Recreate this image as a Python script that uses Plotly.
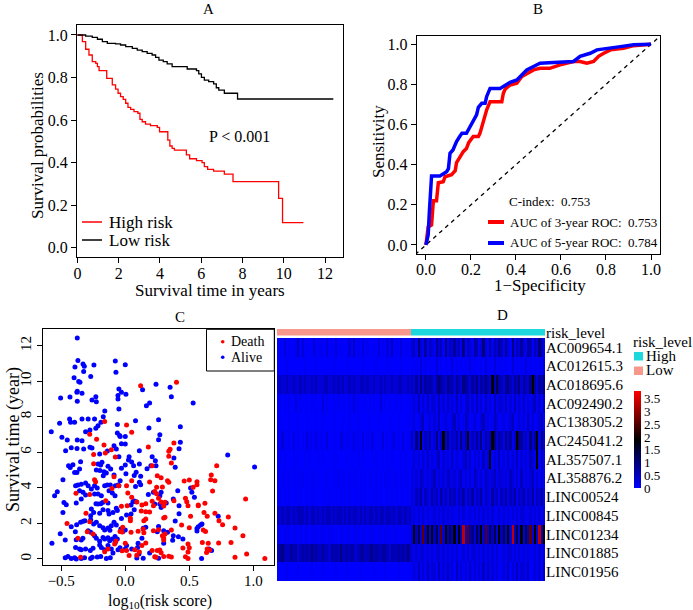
import plotly.graph_objects as go

W, H = 693, 610
FONT = "Liberation Serif"


def X(px):
    return px / W


def Y(py):
    return 1 - py / H


# ---------------- Panel A: Kaplan-Meier ----------------
high_t = [0, 0.24, 0.4, 0.56, 0.72, 0.89, 0.97, 1.05, 1.42, 1.69, 1.85, 1.97, 2.09, 2.22, 2.34, 2.45,
          2.58, 2.74, 2.93, 3.03, 3.14, 3.3, 3.54, 3.87, 3.98, 4.38, 4.48, 4.59, 4.7, 5.28, 5.44,
          5.77, 6.04, 6.15, 6.31, 6.6, 7.12, 7.54, 9.75, 9.94, 10.95]
high_s = [1.0, 0.969, 0.933, 0.906, 0.875, 0.867, 0.851, 0.832, 0.796, 0.765, 0.745, 0.726, 0.71,
          0.697, 0.679, 0.66, 0.65, 0.64, 0.632, 0.603, 0.592, 0.581, 0.574, 0.566, 0.545, 0.506,
          0.478, 0.467, 0.459, 0.436, 0.418, 0.409, 0.4, 0.381, 0.368, 0.36, 0.346, 0.31, 0.232,
          0.118, 0.118]
low_t = [0, 0.4, 0.72, 0.97, 1.21, 1.45, 1.85, 2.09, 2.34, 2.66, 2.9, 3.14, 3.38, 3.62, 3.79, 3.95,
         4.16, 4.35, 4.59, 5.32, 5.77, 5.88, 6.01, 6.15, 6.36, 6.6, 6.73, 6.85, 7.12, 7.76, 12.4]
low_s = [1.0, 0.995, 0.989, 0.98, 0.969, 0.961, 0.958, 0.953, 0.945, 0.937, 0.929, 0.922, 0.914,
         0.906, 0.895, 0.882, 0.875, 0.864, 0.851, 0.84, 0.832, 0.817, 0.801, 0.788, 0.781, 0.77,
         0.752, 0.741, 0.726, 0.699, 0.699]

# ---------------- Panel B: ROC ----------------
roc3_fpr = [0, 0.006, 0.01, 0.025, 0.028, 0.033, 0.047, 0.05, 0.055, 0.077, 0.085, 0.114, 0.13,
            0.136, 0.15, 0.166, 0.18, 0.19, 0.21, 0.233, 0.24, 0.248, 0.255, 0.263, 0.27, 0.285,
            0.337, 0.344, 0.352, 0.374, 0.404, 0.426, 0.448, 0.478, 0.507, 0.55, 0.596, 0.656,
            0.685, 0.715, 0.745, 0.767, 0.79, 0.82, 0.878, 0.923, 1.0]
roc3_tpr = [0, 0.04, 0.09, 0.10, 0.16, 0.22, 0.22, 0.27, 0.31, 0.315, 0.34, 0.35, 0.37, 0.41, 0.44,
            0.465, 0.48, 0.51, 0.54, 0.54, 0.556, 0.59, 0.623, 0.648, 0.673, 0.714, 0.714, 0.756,
            0.776, 0.797, 0.806, 0.839, 0.855, 0.872, 0.88, 0.88, 0.897, 0.914, 0.914, 0.905,
            0.914, 0.94, 0.955, 0.972, 0.98, 0.993, 1.0]
roc5_fpr = [0, 0.01, 0.015, 0.018, 0.025, 0.062, 0.077, 0.092, 0.1, 0.107, 0.12, 0.136, 0.15, 0.16,
            0.18, 0.196, 0.21, 0.225, 0.233, 0.248, 0.263, 0.27, 0.285, 0.33, 0.344, 0.374, 0.404,
            0.426, 0.448, 0.478, 0.507, 0.567, 0.656, 0.685, 0.73, 0.76, 0.804, 0.864, 0.923, 1.0]
roc5_tpr = [0, 0.05, 0.16, 0.22, 0.344, 0.344, 0.354, 0.365, 0.38, 0.457, 0.473, 0.515, 0.54, 0.556,
            0.556, 0.59, 0.623, 0.648, 0.686, 0.706, 0.706, 0.74, 0.78, 0.78, 0.79, 0.81, 0.822,
            0.847, 0.872, 0.889, 0.905, 0.909, 0.914, 0.94, 0.955, 0.972, 0.98, 0.988, 0.997, 1.0]
diag = [-0.1, 1.1]

# ---------------- Panel C: risk score vs survival time ----------------
alive_pts = [
    (-0.375, 12.43), (-0.37, 11.16), (-0.33, 10.97), (-0.32, 10.84), (-0.325, 10.54), (-0.245, 10.91),
    (-0.393, 10.8), (-0.078, 11.14), (-0.073, 10.5), (-0.27, 10.26), (-0.40, 10.2), (-0.364, 9.99),
    (-0.354, 9.94), (-0.05, 9.56), (-0.375, 9.43), (-0.378, 9.38), (-0.338, 9.32), (-0.057, 9.19),
    (-0.057, 9.0), (-0.505, 9.06), (-0.432, 9.11), (-0.375, 8.87), (-0.26, 8.94), (-0.226, 8.85),
    (-0.23, 9.13), (-0.05, 8.44), (-0.16, 8.33), (-0.578, 7.16), (-0.513, 7.63), (-0.435, 7.87),
    (-0.427, 7.69), (-0.396, 7.69), (-0.338, 7.87), (-0.29, 7.87), (-0.24, 7.87), (-0.172, 8.0),
    (-0.19, 7.69), (-0.213, 7.5), (-0.23, 7.35), (-0.31, 7.16), (-0.276, 7.26), (-0.062, 7.57),
    (-0.062, 7.09), (-0.044, 6.94), (-0.495, 6.84), (-0.453, 6.69), (-0.375, 6.69), (-0.338, 6.65),
    (-0.422, 6.26), (-0.377, 6.22), (-0.325, 6.19), (-0.26, 6.24), (-0.276, 6.28), (-0.466, 6.09),
    (-0.2, 5.9), (-0.14, 6.07), (-0.088, 6.37), (-0.07, 6.19), (-0.443, 5.25), (-0.409, 5.3),
    (-0.43, 5.15), (-0.349, 5.47), (-0.357, 5.06), (-0.396, 4.87), (-0.378, 4.87), (-0.213, 5.34),
    (-0.193, 5.28), (-0.182, 5.44), (-0.226, 5.0), (-0.198, 4.97), (-0.166, 4.91), (-0.135, 5.21),
    (-0.114, 5.06), (-0.172, 4.68), (-0.148, 4.84), (-0.088, 4.72), (-0.487, 4.46), (-0.531, 3.78),
    (-0.552, 3.56), (-0.388, 4.12), (-0.37, 4.16), (-0.344, 4.2), (-0.31, 4.27), (-0.29, 4.12),
    (-0.265, 3.93), (-0.24, 4.12), (-0.219, 3.99), (-0.161, 4.12), (-0.14, 4.16), (-0.117, 4.16),
    (-0.078, 4.12), (-0.057, 4.16), (-0.357, 3.84), (-0.33, 3.75), (-0.31, 3.6), (-0.344, 3.37),
    (-0.383, 3.15), (-0.24, 3.65), (-0.213, 3.65), (-0.187, 3.56), (-0.127, 3.84), (-0.101, 3.71),
    (-0.08, 3.56), (-0.213, 3.09), (-0.229, 3.11), (-0.192, 3.11), (-0.177, 3.18), (-0.135, 3.15),
    (-0.479, 3.18), (-0.461, 3.05), (-0.487, 2.62), (-0.265, 2.81), (-0.247, 2.62), (-0.27, 2.43),
    (-0.174, 2.77), (-0.2, 2.57), (-0.135, 2.72), (-0.127, 2.53), (-0.096, 2.62), (-0.062, 2.72),
    (-0.07, 2.85), (-0.328, 2.12), (-0.315, 2.15), (-0.349, 2.06), (-0.38, 1.93), (-0.422, 1.81),
    (-0.27, 2.21), (-0.247, 1.96), (-0.226, 2.06), (-0.2, 1.87), (-0.174, 1.76), (-0.161, 1.63),
    (-0.135, 1.74), (-0.12, 1.61), (-0.109, 1.87), (-0.088, 2.06), (-0.07, 1.91), (-0.508, 1.42),
    (-0.469, 1.07), (-0.39, 1.53), (-0.383, 1.08), (-0.344, 1.07), (-0.331, 1.16), (-0.29, 1.59),
    (-0.27, 1.5), (-0.24, 1.31), (-0.226, 1.16), (-0.2, 0.99), (-0.174, 1.21), (-0.161, 1.12),
    (-0.135, 1.2), (-0.122, 1.03), (-0.101, 1.12), (-0.08, 1.27), (-0.062, 1.12), (-0.078, 0.93),
    (-0.573, 0.88), (-0.388, 0.65), (-0.357, 0.56), (-0.344, 0.52), (-0.31, 0.56), (-0.273, 0.48),
    (-0.252, 0.6), (-0.2, 0.78), (-0.187, 0.65), (-0.161, 0.52), (-0.135, 0.75), (-0.109, 0.56),
    (-0.469, 0.07), (-0.448, 0.14), (-0.422, 0.03), (-0.396, 0.07), (-0.383, 0.0), (-0.344, 0.03),
    (-0.318, 0.07), (-0.271, 0.03), (-0.258, 0.09), (-0.219, 0.11), (-0.192, 0.14), (-0.148, 0.03),
    (-0.117, 0.07), (-0.096, 0.33), (-0.057, 0.52), (-0.041, 0.63),
    (0.0, 10.93), (-0.03, 9.38), (0.005, 9.26), (0.135, 9.52), (0.24, 9.83), (0.35, 9.66), (0.36, 9.13),
    (0.165, 8.62), (0.19, 8.77), (0.53, 8.77), (0.08, 7.78), (0.26, 7.83), (0.43, 7.44), (0.185, 7.37),
    (0.27, 6.99), (0.26, 6.71), (0.43, 6.56), (0.42, 6.2), (0.38, 5.68), (0.39, 5.16), (-0.04, 6.89),
    (0.0, 6.89), (-0.03, 6.48), (0.0, 6.47), (-0.05, 5.75), (0.03, 5.75), (0.025, 5.57), (0.05, 5.45),
    (0.065, 5.25), (0.11, 6.09), (0.11, 5.34), (0.21, 5.75), (0.235, 5.53), (0.24, 5.25), (0.2, 5.25),
    (0.17, 5.08), (0.0, 5.29), (-0.03, 5.1), (0.005, 4.8), (0.085, 4.88), (0.07, 4.69), (0.12, 4.65),
    (0.11, 4.31), (0.08, 4.07), (0.12, 4.18), (-0.04, 4.4), (-0.05, 4.12), (0.22, 3.75), (0.18, 3.62),
    (0.27, 3.56), (0.28, 3.75), (0.41, 3.84), (0.51, 3.99), (0.52, 3.75), (0.54, 3.47), (0.42, 3.0),
    (0.375, 3.37), (0.32, 3.15), (0.27, 3.09), (0.28, 2.9), (0.23, 3.09), (0.07, 3.26), (0.06, 3.22),
    (0.085, 3.22), (0.045, 3.04), (0.07, 2.77), (0.045, 2.53), (0.01, 2.47), (-0.03, 2.28),
    (-0.035, 1.69), (0.0, 1.63), (-0.02, 1.53), (0.14, 1.73), (0.16, 1.78), (0.26, 1.82), (0.25, 1.53),
    (0.30, 1.59), (0.33, 1.5), (0.39, 2.14), (0.42, 2.55), (0.375, 1.31), (0.415, 1.25), (0.45, 1.12),
    (0.56, 1.57), (0.57, 1.81), (0.10, 0.88), (0.13, 1.16), (0.096, 0.65), (0.05, 0.56), (0.01, 0.75),
    (0.0, 0.56), (0.107, 0.28), (0.09, 0.06), (0.14, 0.04), (0.26, 0.04), (0.19, 0.33), (0.30, 0.88),
    (0.37, 1.05),
    (0.80, 5.85), (1.01, 5.17), (0.726, 2.4), (0.588, 1.91), (0.599, 1.96), (0.56, 1.72), (0.661, 0.52),
    (0.674, 0.48), (0.654, 0.56), (0.596, 0.03),
]
death_pts = [
    (-0.161, 7.74), (-0.278, 7.01), (-0.224, 6.73), (-0.166, 6.41), (-0.247, 5.87), (-0.109, 6.15),
    (-0.156, 5.96), (-0.078, 5.74), (-0.247, 5.36), (-0.088, 4.63), (-0.24, 4.46), (-0.232, 4.35),
    (-0.385, 3.69), (-0.278, 3.62), (-0.052, 4.12), (-0.104, 3.97), (-0.153, 3.28), (-0.307, 2.57),
    (-0.455, 2.0), (-0.278, 2.1), (-0.297, 1.53), (-0.37, 1.16), (-0.252, 1.4), (-0.041, 1.55),
    (-0.083, 0.84), (-0.135, 0.56), (-0.161, 0.41), (-0.349, 0.09), (-0.073, 1.01),
    (0.12, 9.75), (0.40, 9.94), (0.01, 7.54), (0.05, 7.13), (0.18, 6.3), (0.35, 6.17), (0.34, 6.06),
    (0.34, 5.78), (0.38, 6.52), (0.36, 5.4), (0.21, 5.25), (0.05, 4.4), (0.01, 4.12), (0.19, 4.33),
    (0.25, 4.68), (0.28, 4.57), (0.245, 4.03), (0.29, 4.05), (0.34, 4.31), (0.33, 4.4), (0.46, 4.39),
    (0.50, 4.44), (0.56, 4.18), (0.53, 4.03), (0.02, 3.71), (0.05, 3.47), (0.09, 3.2), (0.015, 3.0),
    (-0.03, 2.96), (0.13, 3.04), (0.16, 3.1), (0.21, 3.25), (0.22, 3.0), (0.23, 3.79), (0.245, 3.67),
    (0.26, 3.41), (0.28, 3.2), (0.30, 2.98), (0.31, 3.19), (0.30, 2.3), (0.31, 2.34), (0.38, 3.28),
    (0.47, 3.41), (0.48, 3.22), (0.49, 3.0), (0.51, 2.4), (0.57, 3.0), (0.16, 2.66), (0.19, 2.64),
    (0.125, 2.7), (0.16, 2.25), (0.145, 2.15), (0.10, 1.56), (0.045, 1.5), (-0.025, 1.51), (0.04, 2.29),
    (0.04, 2.15), (-0.02, 1.78), (0.14, 1.69), (0.145, 1.48), (0.22, 1.59), (0.26, 1.65), (0.31, 1.41),
    (0.29, 1.31), (0.30, 1.18), (0.30, 1.06), (0.36, 1.63), (0.44, 1.91), (0.50, 1.76), (0.49, 0.84),
    (0.50, 0.63), (0.49, 0.39), (0.49, 0.02), (0.47, 0.13), (0.45, 0.61), (0.0, 0.88), (-0.025, 0.46),
    (0.01, 0.47), (0.03, 0.19), (0.075, 0.52), (0.09, 0.21), (0.11, 0.39), (0.13, 0.75), (0.16, 0.9),
    (0.21, 0.47), (0.23, 0.13), (0.25, 0.47), (0.27, 0.5), (0.28, 0.35), (0.24, 0.09), (0.30, 0.14),
    (0.34, 0.15), (0.36, 0.11),
    (0.714, 5.25), (0.672, 4.72), (0.667, 4.46), (0.70, 4.4), (0.682, 3.82), (0.56, 4.35), (0.94, 3.37),
    (0.57, 3.03), (0.622, 3.13), (0.615, 2.62), (0.64, 2.4), (0.70, 2.57), (0.732, 2.15), (0.76, 1.93),
    (0.805, 2.36), (0.857, 1.74), (0.609, 1.63), (0.627, 1.55), (0.919, 1.31), (0.602, 0.93),
    (0.648, 0.88), (0.729, 0.9), (0.826, 0.93), (0.64, 0.56), (0.66, 0.5), (0.635, 0.37), (0.857, 0.09),
    (0.948, 0.28), (1.09, 0.03),
]
alive_x = [p[0] for p in alive_pts]
alive_y = [p[1] for p in alive_pts]
death_x = [p[0] for p in death_pts]
death_y = [p[1] for p in death_pts]

# ---------------- Panel D: heatmap ----------------
genes = ["AC009654.1", "AC012615.3", "AC018695.6", "AC092490.2", "AC138305.2", "AC245041.2",
         "AL357507.1", "AL358876.2", "LINC00524", "LINC00845", "LINC01234", "LINC01885", "LINC01956"]
# expression level code per sample (one digit per sample); first 60 samples Low, last 60 High
level_values = [0.0, 0.1, 0.3, 0.5, 0.7, 0.95, 1.3, 1.9, 2.6, 3.3]
expr_low = [
    "0102010013 0201002101 1020102010 0120301020 1001020102 0301020110",
    "0000100000 0010000100 0000010000 0100000010 0000100001 0000010000",
    "2322322322 3232232322 2332232323 2232322332 3223223232 2322332232",
    "0101010020 1001010100 2010010101 0010201001 0101002010 1001010010",
    "0100010001 0001000100 1000010001 0010001000 0100010000 1000100010",
    "1021010201 0102110201 1020101021 0110201020 1021010201 0120102011",
    "0101000101 0010100010 1000101000 0101001010 0010100101 0100010100",
    "1011010110 1101011010 0110101101 1010110101 0110101011 1011010110",
    "0101010010 1001010100 0101001010 1010010101 0010101001 0101001010",
    "3232332323 3323233232 3233232332 3232332323 2332323323 3232332323",
    "1101110110 1011011101 1101101011 0110111011 0111011011 1011010111",
    "3453334342 3434353433 4332434353 3434323443 3453433443 2433434353",
    "0000100001 0000010000 1000001000 0100000100 0001000010 0000100000",
]
expr_high = [
    "2315214032 1423051324 2315032143 1252041324 3142051324 2143032531",
    "1010201010 0201010020 1010102010 0102010201 1010020101 0201010102",
    "3242524343 2454325342 4325432435 2435327364 3245324352 4325742435",
    "1213021302 2031203121 3020231203 1203120312 2130203121 3021231203",
    "1201230120 2130121023 1201320121 0231201320 1201230121 2031201230",
    "3152713240 2513725132 4152371324 2514237524 3152413754 2315247152",
    "1212021302 1230212031 2102313021 2031270213 1203121302 1203217031",
    "2121321212 3121213212 1231212132 1213212312 2121321213 1212312121",
    "2132413214 2314231423 1324132413 2413214231 3241324132 4132413241",
    "1212121211 2121212121 1212112121 2121212112 1212121212 2112121212",
    "2736283727 3628273637 2739283526 3728263627 3627293627 2638272937",
    "2121221212 1221212121 2112121221 2121212121 1212212121 2121121212",
    "1213121312 2031213120 3121203121 2130312120 1213021312 2130121203",
]
level_names = ["Low", "High"]
colorbar_ticks = [0, 0.5, 1, 1.5, 2, 2.5, 3, 3.5]
colorbar_text = ["0", "0.5", "1", "1.5", "2", "2.5", "3", "3.5"]

z = []
for lo, hi in zip(expr_low, expr_high):
    s = (lo + hi).replace(" ", "")
    z.append([level_values[int(c)] for c in s])
n_low = len(expr_low[0].replace(" ", ""))
n_high = len(expr_high[0].replace(" ", ""))
samples = list(range(n_low + n_high))
group_row = [[0] * n_low + [1] * n_high]

RED = "#FF0000"
BLUE = "#0000FF"
LOWC = "#F8978C"
HIGHC = "#1CD8DC"

fig = go.Figure()

# A
fig.add_trace(go.Scatter(x=high_t, y=high_s, mode="lines", line=dict(color=RED, width=1.3, shape="hv"),
                         xaxis="x", yaxis="y", showlegend=False, name="High risk"))
fig.add_trace(go.Scatter(x=low_t, y=low_s, mode="lines", line=dict(color="black", width=1.3, shape="hv"),
                         xaxis="x", yaxis="y", showlegend=False, name="Low risk"))
# B
fig.add_trace(go.Scatter(x=diag, y=diag, mode="lines", line=dict(color="black", width=1.3, dash="4px,4px"),
                         xaxis="x2", yaxis="y2", showlegend=False))
fig.add_trace(go.Scatter(x=roc3_fpr, y=roc3_tpr, mode="lines", line=dict(color=RED, width=3.5),
                         xaxis="x2", yaxis="y2", showlegend=False, name="3-year"))
fig.add_trace(go.Scatter(x=roc5_fpr, y=roc5_tpr, mode="lines", line=dict(color=BLUE, width=3.5),
                         xaxis="x2", yaxis="y2", showlegend=False, name="5-year"))
# C
fig.add_trace(go.Scatter(x=alive_x, y=alive_y, mode="markers", marker=dict(color=BLUE, size=5),
                         xaxis="x3", yaxis="y3", showlegend=False, name="Alive"))
fig.add_trace(go.Scatter(x=death_x, y=death_y, mode="markers", marker=dict(color=RED, size=5),
                         xaxis="x3", yaxis="y3", showlegend=False, name="Death"))
# D
fig.add_trace(go.Heatmap(
    z=z, x=samples, y=genes, xaxis="x4", yaxis="y4", zmin=0, zmax=3.8,
    colorscale=[[0, "#0000FF"], [0.5, "#000000"], [1, "#FF0000"]],
    colorbar=dict(x=X(634), xanchor="left", y=Y(439.6), yanchor="middle", len=97, lenmode="pixels",
                  thickness=7, xpad=0, ypad=0, outlinewidth=0, ticks="",
                  tickvals=colorbar_ticks, ticktext=colorbar_text,
                  tickfont=dict(family=FONT, size=13, color="black")),
))
fig.add_trace(go.Heatmap(
    z=group_row, x=samples, y=["risk_level"], xaxis="x5", yaxis="y5", zmin=0, zmax=1,
    colorscale=[[0, LOWC], [0.5, LOWC], [0.5, HIGHC], [1, HIGHC]], showscale=False,
))

box = dict(showline=True, linecolor="black", linewidth=1, mirror=True, ticks="outside", ticklen=5,
           tickcolor="black", showgrid=False, zeroline=False,
           tickfont=dict(family=FONT, size=16, color="black"))

layout = dict(
    width=W, height=H, autosize=False, margin=dict(l=0, r=0, t=0, b=0, autoexpand=False),
    paper_bgcolor="white", plot_bgcolor="white", showlegend=False,
    font=dict(family=FONT, color="black"),
    xaxis=dict(box, domain=[X(77), X(343)], range=[-0.02, 12.87], tickvals=[0, 2, 4, 6, 8, 10, 12],
               ticklabelstandoff=-3),
    yaxis=dict(box, domain=[Y(257), Y(25)], range=[-0.044, 1.047], tickvals=[0, 0.2, 0.4, 0.6, 0.8, 1.0],
               tickformat=".1f"),
    xaxis2=dict(box, domain=[X(416.7), X(660)], range=[-0.041, 1.04], tickvals=[0, 0.2, 0.4, 0.6, 0.8, 1.0],
                tickformat=".1f", anchor="y2", ticklabelstandoff=-4),
    yaxis2=dict(box, domain=[Y(254), Y(36)], range=[-0.045, 1.041], tickvals=[0, 0.2, 0.4, 0.6, 0.8, 1.0],
                tickformat=".1f", anchor="x2"),
    xaxis3=dict(box, domain=[X(42.7), X(274.3)], range=[-0.645, 1.164], tickvals=[-0.5, 0, 0.5, 1.0],
                tickformat=".1f", anchor="y3", ticklabelstandoff=-3,
                tickfont=dict(family=FONT, size=15, color="black")),
    yaxis3=dict(box, domain=[Y(565), Y(329.3)], range=[-0.34, 12.92], tickvals=[0, 2, 4, 6, 8, 10, 12],
                tickangle=-90, anchor="x3", tickfont=dict(family=FONT, size=15, color="black")),
    xaxis4=dict(domain=[X(277), X(545)], range=[-0.5, len(samples) - 0.5], visible=False, anchor="y4"),
    yaxis4=dict(domain=[Y(581), Y(338)], autorange="reversed", side="right", anchor="x4", ticks="",
                showgrid=False, zeroline=False, showline=False,
                tickfont=dict(family=FONT, size=15, color="black")),
    xaxis5=dict(domain=[X(277), X(545)], range=[-0.5, len(samples) - 0.5], visible=False, anchor="y5"),
    yaxis5=dict(domain=[Y(335.5), Y(329)], side="right", anchor="x5", ticks="",
                showgrid=False, zeroline=False, showline=False,
                tickfont=dict(family=FONT, size=15, color="black")),
)
fig.update_layout(**layout)

ann = []


def txt(x, y, s, size, xanchor="center", angle=0, color="black"):
    ann.append(dict(x=X(x), y=Y(y), xref="paper", yref="paper", text=s, showarrow=False,
                    xanchor=xanchor, yanchor="middle", textangle=angle,
                    font=dict(family=FONT, size=size, color=color)))


# titles
txt(208, 9, "A", 15)
txt(538, 9, "B", 15)
txt(180, 317, "C", 15)
txt(502, 315, "D", 15)
# axis titles
txt(37, 146, "Survival probabilities", 17, angle=-90)
txt(210, 290, "Survival time in years", 17)
txt(378, 142, "Sensitivity", 17, angle=-90)
txt(540, 286, "1−Specificity", 17)
txt(13, 440, "Survival time (year)", 18, angle=-90)
txt(160, 601, "log<sub>10</sub>(risk score)", 16)
# panel A text
txt(239, 136, "P < 0.001", 16)
txt(107, 222, "High risk", 17, xanchor="left")
txt(107, 240, "Low risk", 17, xanchor="left")
# panel B legend
txt(506.7, 201.7, "C-index:  0.753", 13, xanchor="left")
txt(508, 222, "AUC of 3-year ROC:  0.753", 13, xanchor="left")
txt(508, 243, "AUC of 5-year ROC:  0.784", 13, xanchor="left")
# panel C legend
txt(229, 341.7, "Death", 14, xanchor="left")
txt(229, 357.3, "Alive", 14, xanchor="left")
# panel D legend
txt(631, 342, "risk_level", 15, xanchor="left")
txt(644, 355.5, level_names[1], 15, xanchor="left")
txt(644, 370, level_names[0], 15, xanchor="left")

shapes = []


def line(x0, y0, x1, y1, color, width):
    shapes.append(dict(type="line", xref="paper", yref="paper", x0=X(x0), y0=Y(y0), x1=X(x1), y1=Y(y1),
                       line=dict(color=color, width=width)))


def rect(x0, y0, x1, y1, fill, lc=None, lw=0):
    shapes.append(dict(type="rect", xref="paper", yref="paper", x0=X(x0), y0=Y(y0), x1=X(x1), y1=Y(y1),
                       fillcolor=fill, line=dict(color=lc or fill, width=lw)))


def dot(cx, cy, r, color):
    shapes.append(dict(type="circle", xref="paper", yref="paper", x0=X(cx - r), y0=Y(cy + r),
                       x1=X(cx + r), y1=Y(cy - r), fillcolor=color, line=dict(width=0)))


line(82, 222, 102, 222, RED, 1.5)
line(82, 240, 102, 240, "black", 1.5)
line(488, 222, 504, 222, RED, 4)
line(488, 243, 504, 243, BLUE, 4)
rect(206.5, 329.3, 274.3, 371, "rgba(0,0,0,0)", "black", 1)
dot(222.7, 341.7, 1.8, RED)
dot(222.7, 357.3, 1.8, BLUE)
rect(634, 352, 643, 360.5, HIGHC)
rect(634, 366.5, 643, 375, LOWC)

fig.update_layout(annotations=ann, shapes=shapes)
fig.write_html("out.html", config={"displayModeBar": False},
               post_script="document.body.style.margin='0px';document.body.style.overflow='hidden';")
